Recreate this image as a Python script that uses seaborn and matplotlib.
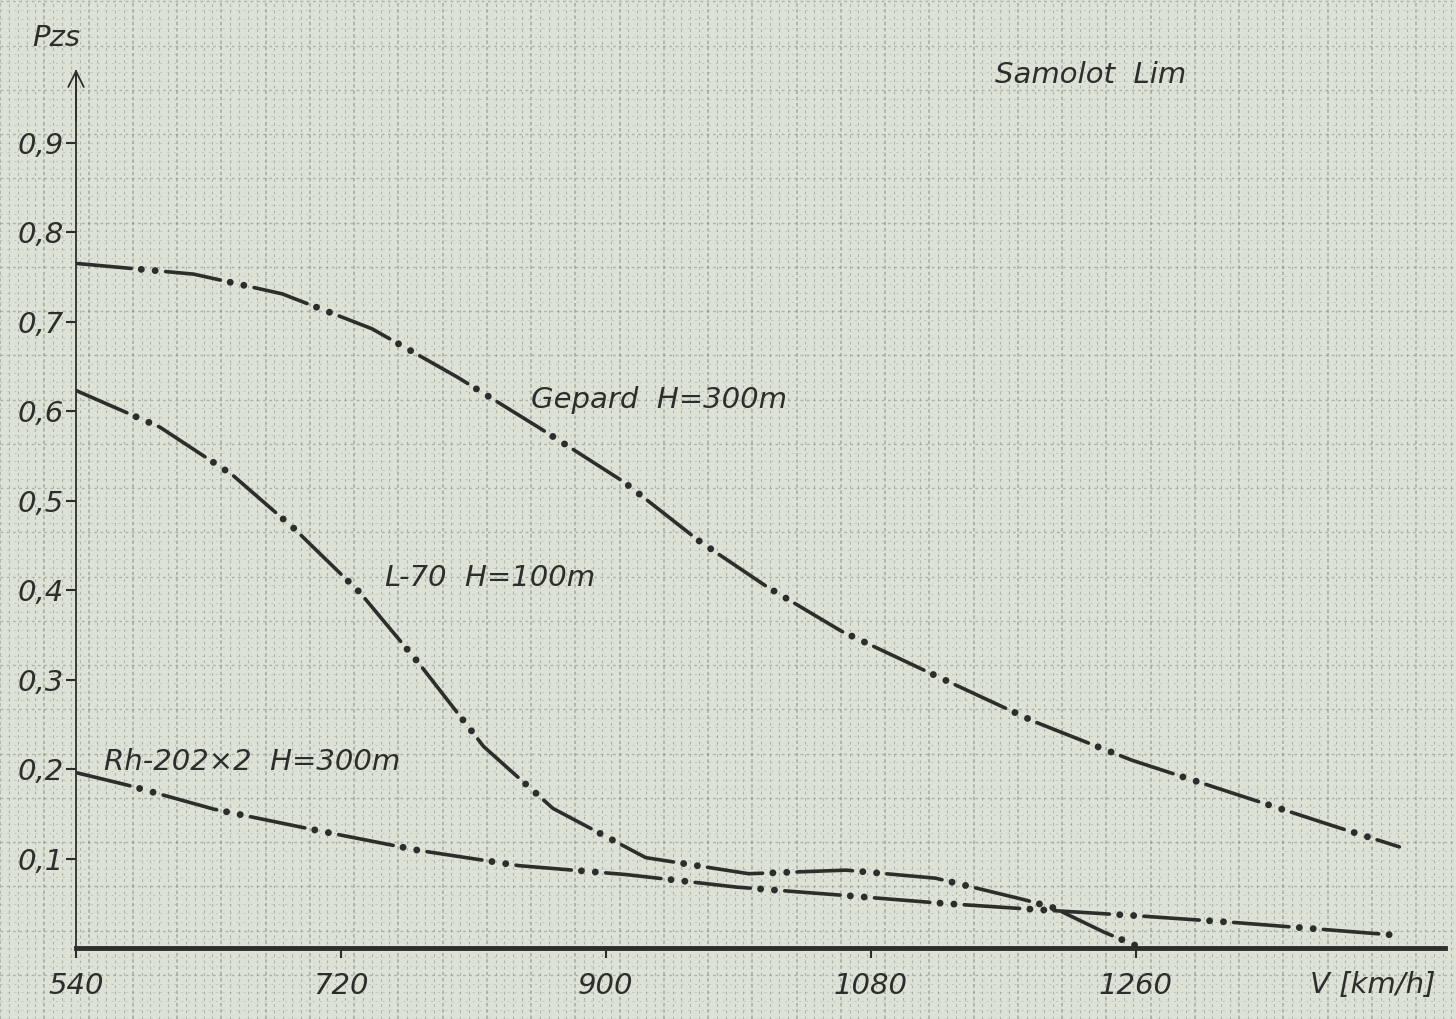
import numpy as np
import pandas as pd
import matplotlib
matplotlib.use("Agg")
import matplotlib.pyplot as plt
import seaborn as sns
from matplotlib.ticker import MultipleLocator

# speed V [km/h] and kill probability Pzs
speed_gepard = [540, 620, 680, 741, 799, 855, 912, 964, 1010, 1060, 1127, 1191, 1257, 1324, 1393, 1439]
pzs_gepard = [0.765, 0.753, 0.731, 0.692, 0.638, 0.581, 0.521, 0.454, 0.403, 0.354, 0.302, 0.253, 0.210, 0.174, 0.137, 0.113]

speed_l70 = [540, 597, 646, 688, 733, 773, 817, 864, 927, 997, 1063, 1124, 1184, 1204, 1238, 1261]
pzs_l70 = [0.623, 0.582, 0.529, 0.469, 0.397, 0.318, 0.225, 0.156, 0.101, 0.083, 0.087, 0.078, 0.054, 0.045, 0.018, 0.002]

speed_rh = [540, 575, 634, 705, 773, 841, 914, 989, 1060, 1128, 1192, 1261, 1331, 1393, 1439]
pzs_rh = [0.196, 0.182, 0.155, 0.131, 0.109, 0.092, 0.082, 0.068, 0.059, 0.050, 0.043, 0.036, 0.028, 0.020, 0.014]

x_ticks = [540, 720, 900, 1080, 1260]
y_ticks = [0.1, 0.2, 0.3, 0.4, 0.5, 0.6, 0.7, 0.8, 0.9]
y_tick_labels = ["0,1", "0,2", "0,3", "0,4", "0,5", "0,6", "0,7", "0,8", "0,9"]

paper = "#dce2d6"
ink = "#2c2e2b"
grid_col = "#7b8478"

sns.set_theme(style="white")
plt.rcParams["font.family"] = ["DejaVu Sans"]
plt.rcParams["lines.scale_dashes"] = False

fig = plt.figure(figsize=(14.56, 10.19), dpi=100, facecolor=paper)

# graph paper behind everything
bg = fig.add_axes([0, 0, 1, 1], zorder=0)
bg.set_facecolor(paper)
bg.set_xlim(0, 1456)
bg.set_ylim(0, 1019)
bg.xaxis.set_minor_locator(MultipleLocator(8.85))
bg.yaxis.set_minor_locator(MultipleLocator(8.85))
bg.xaxis.set_major_locator(MultipleLocator(44.25))
bg.yaxis.set_major_locator(MultipleLocator(44.25))
bg.grid(which="minor", axis="x", color=grid_col, lw=0.8, ls=(0, (2, 2.5)), alpha=0.5)
bg.grid(which="minor", axis="y", color=grid_col, lw=0.6, ls=(0, (1.5, 3.5)), alpha=0.35)
bg.grid(which="major", axis="x", color=grid_col, lw=1.1, ls=(0, (2.5, 2)), alpha=0.6)
bg.grid(which="major", axis="y", color=grid_col, lw=1.0, ls=(0, (2, 2.5)), alpha=0.5)
bg.tick_params(which="both", length=0, labelbottom=False, labelleft=False)
for s in bg.spines.values():
    s.set_visible(False)

ax = fig.add_axes([76 / 1456, 71 / 1019, (1445 - 76) / 1456, (948 - 71) / 1019], zorder=1)
ax.patch.set_alpha(0)
ax.set_xlim(540, 1470)
ax.set_ylim(0, 0.98)

# dash-dot-dot drawn as two layers: long dashes, then two fat dots in each gap
dash_part = (0, (40, 24.8))
dot_part = (17.6, (0.01, 10, 0.01, 54.8))
for xs, ys in [(speed_gepard, pzs_gepard), (speed_l70, pzs_l70), (speed_rh, pzs_rh)]:
    sns.lineplot(x=xs, y=ys, ax=ax, color=ink, lw=2.6, linestyle=dash_part,
                 dash_capstyle="round", sort=False)
    sns.lineplot(x=xs, y=ys, ax=ax, color=ink, lw=5.0, linestyle=dot_part,
                 dash_capstyle="round", sort=False)

txt = dict(color=ink, fontsize=21, fontstyle="italic")
ax.text(849, 0.612, "Gepard  H=300m", va="center", ha="left", **txt)
ax.text(750, 0.413, "L-70  H=100m", va="center", ha="left", **txt)
ax.text(559, 0.208, "Rh-202\u00d72  H=300m", va="center", ha="left", **txt)

# axes styling
for side in ["top", "right"]:
    ax.spines[side].set_visible(False)
ax.spines["left"].set_color(ink)
ax.spines["left"].set_linewidth(1.3)
ax.spines["bottom"].set_color(ink)
ax.spines["bottom"].set_linewidth(3.5)
ax.annotate("", xy=(0, 1.005), xytext=(0, 0.94), xycoords="axes fraction",
            arrowprops=dict(arrowstyle="->", color=ink, lw=1.3, mutation_scale=28))

ax.set_xticks(x_ticks)
ax.set_xticklabels([str(v) for v in x_ticks])
ax.set_yticks(y_ticks)
ax.set_yticklabels(y_tick_labels)
ax.tick_params(axis="x", direction="out", length=7, width=1.5, color=ink, pad=10,
               labelsize=21, labelcolor=ink, bottom=True)
ax.tick_params(axis="y", direction="out", length=7, width=1.5, color=ink, pad=2,
               labelsize=21, labelcolor=ink, left=True)
for lab in ax.get_xticklabels() + ax.get_yticklabels():
    lab.set_fontstyle("italic")
ax.set_xlabel("")
ax.set_ylabel("")

fig.text(32 / 1456, 1 - 38 / 1019, "Pzs", va="center", ha="left", **txt)
fig.text(995 / 1456, 1 - 75 / 1019, "Samolot  Lim", va="center", ha="left", **txt)
fig.text(1310 / 1456, 1 - 985 / 1019, "V [km/h]", va="center", ha="left", **txt)

fig.savefig("out.png", dpi=100, facecolor=paper)
